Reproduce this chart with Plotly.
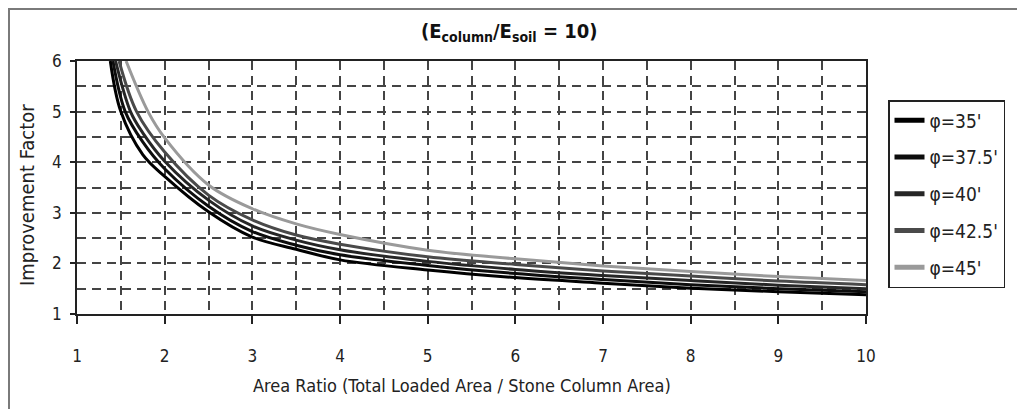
import plotly.graph_objects as go

# ---- data ----
phi35_x = [1.38, 1.5, 1.75, 2, 2.5, 3, 3.5, 4, 5, 6, 7, 8, 9, 10]
phi35_y = [6.0, 5.0, 4.15, 3.72, 3.02, 2.52, 2.28, 2.07, 1.87, 1.72, 1.61, 1.51, 1.44, 1.38]

phi375_x = [1.41, 1.55, 1.75, 2, 2.5, 3, 3.5, 4, 5, 6, 7, 8, 9, 10]
phi375_y = [6.0, 5.0, 4.4, 3.87, 3.13, 2.63, 2.36, 2.17, 1.96, 1.80, 1.68, 1.58, 1.50, 1.44]

phi40_x = [1.44, 1.61, 1.75, 2, 2.5, 3, 3.5, 4, 5, 6, 7, 8, 9, 10]
phi40_y = [6.0, 5.0, 4.58, 4.02, 3.25, 2.74, 2.46, 2.27, 2.04, 1.88, 1.76, 1.66, 1.57, 1.50]

phi425_x = [1.48, 1.68, 2, 2.5, 3, 3.5, 4, 5, 6, 7, 8, 9, 10]
phi425_y = [6.0, 5.0, 4.2, 3.35, 2.86, 2.56, 2.38, 2.13, 1.98, 1.85, 1.75, 1.65, 1.58]

phi45_x = [1.56, 1.81, 2, 2.5, 3, 3.5, 4, 5, 6, 7, 8, 9, 10]
phi45_y = [6.0, 5.0, 4.48, 3.55, 3.08, 2.78, 2.57, 2.26, 2.09, 1.95, 1.84, 1.74, 1.66]

series_names = ["φ=35'", "φ=37.5'", "φ=40'", "φ=42.5'", "φ=45'"]
series_x = [phi35_x, phi375_x, phi40_x, phi425_x, phi45_x]
series_y = [phi35_y, phi375_y, phi40_y, phi425_y, phi45_y]
series_colors = ["#000000", "#0d0d0d", "#262626", "#4a4a4a", "#9a9a9a"]

x_ticks = [1, 2, 3, 4, 5, 6, 7, 8, 9, 10]
y_ticks = [1, 2, 3, 4, 5, 6]

FONT = "DejaVu Sans Condensed"

fig = go.Figure()
for name, xs, ys, col in zip(series_names, series_x, series_y, series_colors):
    fig.add_trace(go.Scatter(x=xs, y=ys, mode="lines", name=name,
                             line=dict(color=col, width=3, shape="spline", smoothing=1.0),
                             showlegend=False, hoverinfo="skip"))
# legend-only entries (thicker sample lines)
for i, (name, col) in enumerate(zip(series_names, series_colors)):
    fig.add_trace(go.Scatter(x=[None], y=[None], mode="lines", name=name,
                             legendgroup=f"g{i}",
                             line=dict(color=col, width=5)))

grid = dict(showgrid=True, gridcolor="#444444", gridwidth=2, griddash="9px,6px")

fig.update_xaxes(range=[1, 10], tickvals=x_ticks, ticktext=[str(v) for v in x_ticks],
                 ticks="outside", ticklen=8, tickwidth=1.5, tickcolor="#222",
                 showline=True, linecolor="#222", linewidth=1.5, mirror=True,
                 zeroline=False, tickfont=dict(family=FONT, size=17, color="#222"),
                 ticklabelstandoff=18,
                 minor=dict(dtick=0.5, tick0=1, showgrid=True, gridcolor="#444444",
                            gridwidth=2, griddash="9px,6px"),
                 **grid)
fig.update_yaxes(range=[1, 6], tickvals=y_ticks, ticktext=[str(v) for v in y_ticks],
                 ticks="outside", ticklen=5, tickwidth=1.5, tickcolor="#222",
                 showline=True, linecolor="#222", linewidth=1.5, mirror=True,
                 zeroline=False, tickfont=dict(family=FONT, size=17, color="#222"),
                 ticklabelstandoff=5,
                 minor=dict(dtick=0.5, tick0=1, showgrid=True, gridcolor="#444444",
                            gridwidth=2, griddash="9px,6px"),
                 **grid)

L, R, T, B = 77, 151, 61, 95
W, H = 1017, 409
pw, ph = W - L - R, H - T - B


def px_x(p):
    return (p - L) / pw


def px_y(p):
    return (H - B - p) / ph


fig.update_layout(
    width=W, height=H, autosize=False,
    margin=dict(l=L, r=R, t=T, b=B, pad=0),
    paper_bgcolor="white", plot_bgcolor="white",
    font=dict(family=FONT, color="#222"),
    legend=dict(x=px_x(888), y=px_y(100), xanchor="left", yanchor="top",
                bordercolor="#222", borderwidth=1.5, bgcolor="white",
                traceorder="grouped", tracegroupgap=9,
                font=dict(family=FONT, size=19, color="#222"),
                itemwidth=30),
    annotations=[
        dict(text="<b>(E<sub>column</sub>/E<sub>soil</sub> = 10)</b>", xref="paper", yref="paper",
             x=px_x(509), y=px_y(32), xanchor="center", yanchor="middle", showarrow=False,
             font=dict(family=FONT, size=20, color="#111")),
        dict(text="Area Ratio (Total Loaded Area / Stone Column Area)", xref="paper", yref="paper",
             x=px_x(462), y=px_y(385), xanchor="center", yanchor="middle", showarrow=False,
             font=dict(family=FONT, size=18, color="#222")),
        dict(text="Improvement Factor", xref="paper", yref="paper", textangle=-90,
             x=px_x(27), y=px_y(195), xanchor="center", yanchor="middle", showarrow=False,
             font=dict(family=FONT, size=20, color="#222")),
    ],
    shapes=[
        dict(type="rect", xref="paper", yref="paper",
             x0=px_x(9), x1=px_x(1030), y0=px_y(420), y1=px_y(9),
             line=dict(color="#7a7a7a", width=2), fillcolor="rgba(0,0,0,0)", layer="below"),
    ],
)

fig.write_html("out.html")
